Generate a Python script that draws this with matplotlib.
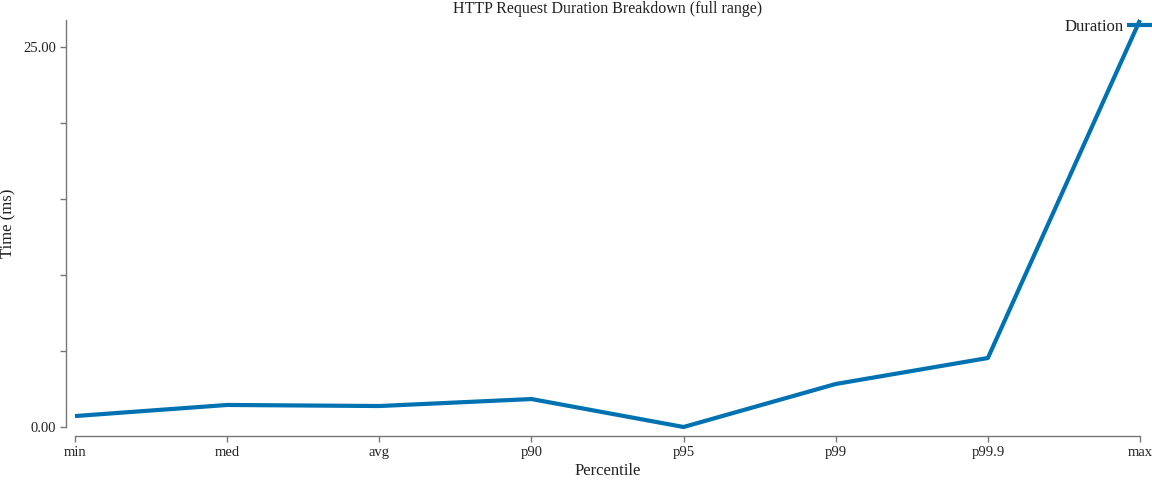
import matplotlib
matplotlib.use("Agg")
import matplotlib.pyplot as plt
from matplotlib.ticker import FixedLocator, FuncFormatter

percentiles = ["min", "med", "avg", "p90", "p95", "p99", "p99.9", "max"]
duration_ms = [0.72, 1.45, 1.38, 1.84, 0.0, 2.83, 4.54, 26.78]
y_ticks = [0, 5, 10, 15, 20, 25]
y_labeled = {0: "0.00", 25: "25.00"}

plt.rcParams['font.family'] = ['Liberation Serif', 'DejaVu Serif']

W, H = 1152, 480
fig = plt.figure(figsize=(W / 100, H / 100), dpi=100)
ax = fig.add_axes([75 / W, (H - 427) / H, (1140 - 75) / W, (427 - 20) / H])

x = list(range(len(percentiles)))
line, = ax.plot(x, duration_ms, color="#0072B2", lw=3, solid_capstyle="butt", label="Duration", clip_on=False)

ax.set_xlim(0, len(percentiles) - 1)
ax.set_ylim(0, max(duration_ms))
ax.set_xticks(x)
ax.set_xticklabels(percentiles)
ax.yaxis.set_major_locator(FixedLocator(y_ticks))
ax.yaxis.set_major_formatter(FuncFormatter(lambda v, p: y_labeled.get(int(round(v)), "")))

for s in ["top", "right"]:
    ax.spines[s].set_visible(False)
ax.spines["left"].set_position(("outward", 6.5))
ax.spines["bottom"].set_position(("outward", 6.5))
for s in ["left", "bottom"]:
    ax.spines[s].set_color("#777777")
    ax.spines[s].set_linewidth(1)
ax.tick_params(axis="both", colors="#777777", labelcolor="#222222", length=4.5, width=1, labelsize=10.5, pad=2.5)

ax.set_xlabel("Percentile", fontsize=12, color="#222222", labelpad=3)
ax.set_ylabel("Time (ms)", fontsize=12, color="#222222")
ax.set_title("HTTP Request Duration Breakdown (full range)", fontsize=11.5, color="#222222", pad=5)
ax.yaxis.set_label_coords(-(75 - 16) / (1140 - 75), 0.5)

leg = ax.legend(handles=[line], loc="center right", bbox_to_anchor=(1.0 + 2 / W, 1 - 27 / H),
                bbox_transform=fig.transFigure, frameon=False, markerfirst=False, fontsize=12,
                handlelength=1.6, handletextpad=0.25, borderaxespad=0.0, borderpad=0.0)
for t in leg.get_texts():
    t.set_color("#222222")

fig.savefig("out.png", dpi=100)
